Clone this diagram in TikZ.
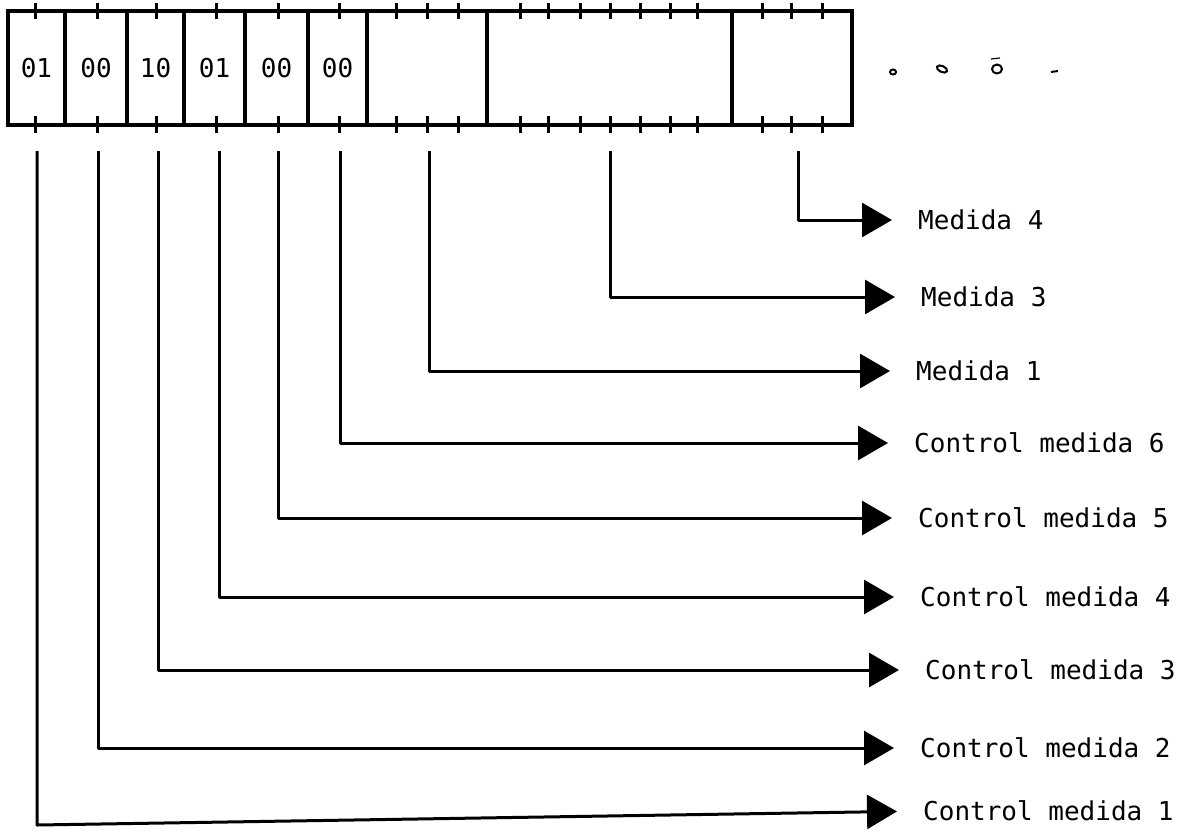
\documentclass[tikz,border=0pt]{standalone}
\usepackage{fontspec}
\newfontfamily\labfont{DejaVu Sans Mono}
\usetikzlibrary{arrows.meta}
\begin{document}
\begin{tikzpicture}[x=1pt,y=-1pt,
  reg/.style={draw, line width=3.2pt, minimum height=114pt, inner sep=0pt, outer sep=0pt,
    font=\labfont\fontsize{26}{26}\selectfont},
  tickmark/.style={line width=3pt},
  conn/.style={line width=3pt, line join=round, -{Triangle[length=30pt,width=34pt]}, shorten >=26pt},
  lab/.style={anchor=west, inner sep=0pt, font=\labfont\fontsize{26}{26}\selectfont, text height=19pt, text depth=0pt},
  dotmark/.style={line width=2pt}
]
\useasboundingbox[fill=white] (0,0) rectangle (1197,839);

% register cells
\node[reg, minimum width=57pt]  (c1) at (36.5,68)  {01};
\node[reg, minimum width=62pt]  (c2) at (96,68)    {00};
\node[reg, minimum width=57pt]  (c3) at (155.5,68) {10};
\node[reg, minimum width=61pt]  (c4) at (214.5,68) {01};
\node[reg, minimum width=63pt]  (c5) at (276.5,68) {00};
\node[reg, minimum width=59pt]  (c6) at (337.5,68) {00};
\node[reg, minimum width=120pt] (c7) at (427,68)   {};
\node[reg, minimum width=245pt] (c8) at (609.5,68) {};
\node[reg, minimum width=120pt] (c9) at (792,68)   {};

% bit ticks
\foreach \x in {35,97,156,216,278,339,396,427,458,520,548,580,610,640,670,697,762,791,822}{
  \draw[tickmark] (\x,3) -- (\x,19);
  \draw[tickmark] (\x,116) -- (\x,133);
}

% continuation marks
\draw[dotmark] (893,72) ellipse[x radius=3pt, y radius=2.5pt];
\draw[dotmark, rotate around={-25:(942,69)}] (942,69) ellipse[x radius=5.5pt, y radius=3pt];
\draw[dotmark] (997,69) ellipse[x radius=5pt, y radius=4.5pt];
\draw[line width=1.2pt] (991,59) -- (1000,58);
\draw[dotmark] (1051,72) -- (1058,71);

% tap points
\coordinate (t1) at (37,151);
\coordinate (t2) at (98,151);
\coordinate (t3) at (158,151);
\coordinate (t4) at (219,151);
\coordinate (t5) at (278,151);
\coordinate (t6) at (340,151);
\coordinate (t7) at (429,151);
\coordinate (t8) at (610,151);
\coordinate (t9) at (798,151);

% labels
\node[lab] (m4) at (918,220) {Medida 4};
\node[lab] (m3) at (921,297) {Medida 3};
\node[lab] (m1) at (916,371) {Medida 1};
\node[lab] (k6) at (914,443) {Control medida 6};
\node[lab] (k5) at (918,518) {Control medida 5};
\node[lab] (k4) at (920,597) {Control medida 4};
\node[lab] (k3) at (925,670) {Control medida 3};
\node[lab] (k2) at (920,748) {Control medida 2};
\node[lab] (k1) at (923,811) {Control medida 1};

% connectors
\draw[conn] (t9) |- (m4.west);
\draw[conn] (t8) |- (m3.west);
\draw[conn] (t7) |- (m1.west);
\draw[conn] (t6) |- (k6.west);
\draw[conn] (t5) |- (k5.west);
\draw[conn] (t4) |- (k4.west);
\draw[conn] (t3) |- (k3.west);
\draw[conn] (t2) |- (k2.west);
\coordinate (b1) at (37,825);
\draw[conn] (t1) -- (b1) -- (k1.west);
\end{tikzpicture}
\end{document}
